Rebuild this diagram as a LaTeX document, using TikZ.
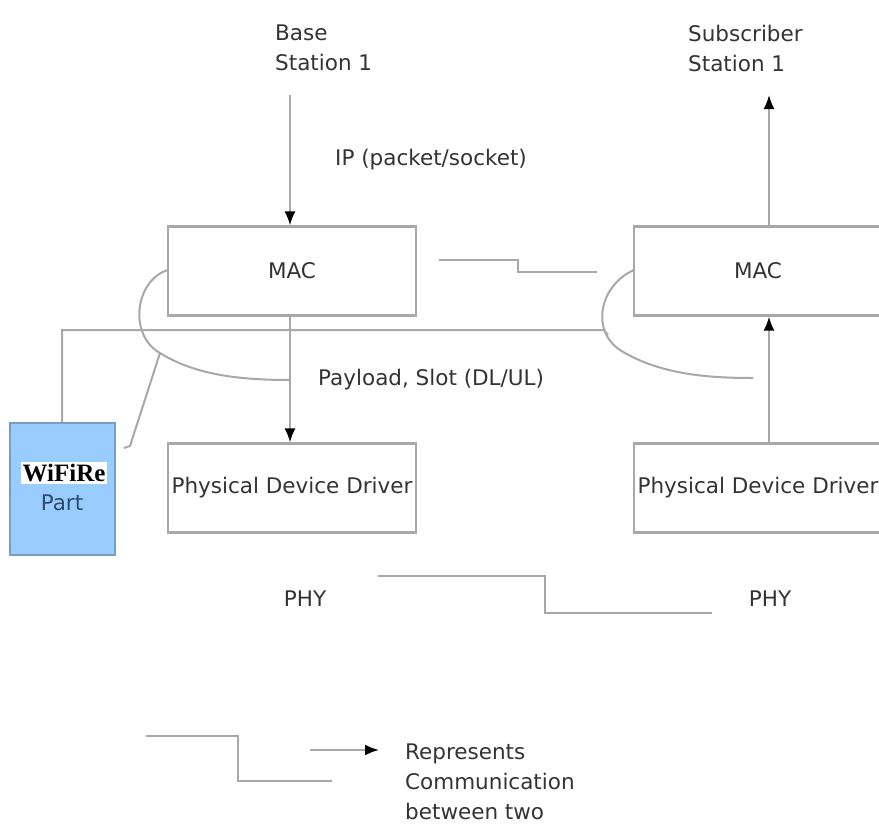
\documentclass[tikz,border=0pt]{standalone}
\usepackage{fontspec}
\setmainfont{DejaVu Sans}
\usetikzlibrary{arrows.meta}
\definecolor{linegray}{HTML}{A8A8A8}
\definecolor{txtgray}{HTML}{333333}
\definecolor{wblue}{HTML}{99CCFF}
\definecolor{wborder}{HTML}{7A9CC0}
\definecolor{parttxt}{HTML}{2E4A70}
\begin{document}
\begin{tikzpicture}[x=1pt,y=-1pt,
  font=\fontsize{21.5}{30}\selectfont,
  every node/.style={text=txtgray},
  layerbox/.style={draw=linegray,line width=2.2pt,minimum width=248pt,minimum height=89pt,inner sep=0pt},
  conn/.style={draw=linegray,line width=2pt},
  arr/.style={conn,-{Latex[length=14pt,width=11pt,black]}},
  lbl/.style={align=left,inner sep=0pt,anchor=west}]
\useasboundingbox (0,0) rectangle (879,836);
% boxes
\node[layerbox] (macL) at (292,271) {MAC};
\node[layerbox] (pddL) at (292,488) {Physical Device Driver};
\node[layerbox] (macR) at (758,271) {MAC};
\node[layerbox] (pddR) at (758,488) {Physical Device Driver};
\node[draw=wborder,fill=wblue,line width=1.5pt,minimum width=105pt,minimum height=132pt,inner sep=0pt] (wifi) at (62.5,489) {};
\node[fill=white,inner sep=2pt,text=black,font=\fontsize{25}{26}\selectfont\bfseries] (wname) at (64,473) {\fontspec{Liberation Serif}[Scale=1]\bfseries WiFiRe};
\node[inner sep=0pt,text=parttxt] (wpart) at (62,503) {Part};
% labels
\node[lbl] (bs) at (275,48) {Base\\Station 1};
\node[lbl] (ss) at (688,48) {Subscriber\\Station 1};
\node[lbl] (ip) at (335,160) {IP (packet/socket)};
\node[lbl] (pay) at (318,380) {Payload, Slot (DL/UL)};
\node (phyL) at (305,599) {PHY};
\node (phyR) at (770,599) {PHY};
\node[lbl] (leg) at (405,782) {Represents\\Communication\\between two};
% coordinates
\coordinate (bsA) at (290,95);
\coordinate (ssA) at (769,95);
% vertical arrows
\draw[arr] (bsA) -- (bsA |- macL.north);
\draw[arr] (macR.north -| ssA) -- (ssA);
\draw[arr] (macL.south -| bsA) -- (pddL.north -| bsA);
\draw[arr] (pddR.north -| ssA) -- (macR.south -| ssA);
% bus line to WiFiRe
\coordinate (busL) at (62,330);
\coordinate (busR) at (604,330);
\draw[conn] (wifi.north -| busL) -- (busL) -- (busR) -- ++(4,5);
% left arc
\coordinate (aL1) at (168,270);
\coordinate (aL2) at (160,353);
\coordinate (aL3) at (290,380);
\draw[conn] (aL1) .. controls (135,280) and (128,335) .. (aL2)
  .. controls (195,375) and (240,380) .. (aL3);
\coordinate (hk) at (124,448);
\draw[conn] (aL2) -- (130,446) -- (hk);
% right arc
\coordinate (aR1) at (634,270);
\coordinate (aR2) at (753,378);
\draw[conn] (aR1) .. controls (600,285) and (590,330) .. (620,350)
  .. controls (660,375) and (710,378) .. (aR2);
% MAC-MAC communication
\coordinate (m1) at (439,260);
\coordinate (m2) at (597,272);
\draw[conn] (m1) -- (518,260) -- (518,272) -- (m2);
% PHY communication
\coordinate (p1) at (378,576);
\coordinate (p2) at (712,613);
\draw[conn] (p1) -- (545,576) -- (545,613) -- (p2);
% legend
\coordinate (l1) at (146,736);
\coordinate (l2) at (332,781);
\draw[conn] (l1) -- (238,736) -- (238,781) -- (l2);
\coordinate (la1) at (310,750);
\coordinate (la2) at (379,750);
\draw[arr] (la1) -- (la2);
\end{tikzpicture}
\end{document}
